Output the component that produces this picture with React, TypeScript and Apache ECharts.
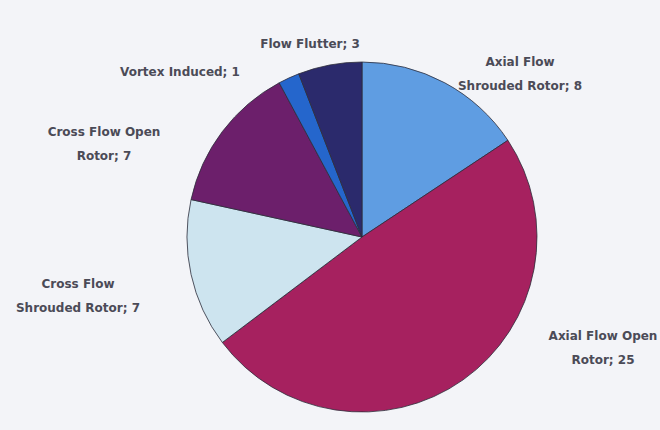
import React, { useEffect, useRef } from "react";
import * as echarts from "echarts";

// Turbine concept counts, in clockwise order from 12 o'clock
const categories = [
  "Axial Flow\nShrouded Rotor",
  "Axial Flow Open\nRotor",
  "Cross Flow\nShrouded Rotor",
  "Cross Flow Open\nRotor",
  "Vortex Induced",
  "Flow Flutter",
];
const counts = [8, 25, 7, 7, 1, 3];
const sliceColors = ["#5f9de2", "#a6215f", "#cde4ef", "#6c1f6b", "#2566cc", "#2b2a6c"];

// Where each label block sits (centre of the text block)
const labelSpots: [number, number][] = [
  [520, 74],
  [603, 348],
  [78, 296],
  [104, 144],
  [180, 72],
  [310, 44],
];

export default function App() {
  const ref = useRef<HTMLDivElement>(null);

  useEffect(() => {
    if (!ref.current) return;
    const chart = echarts.init(ref.current, undefined, { renderer: "svg" });
    chart.setOption({
      animation: false,
      backgroundColor: "#f3f4f8",
      series: [
        {
          type: "pie",
          center: [362, 237],
          radius: 175,
          startAngle: 90,
          clockwise: true,
          avoidLabelOverlap: false,
          itemStyle: { borderColor: "#2c2c3a", borderWidth: 0.8 },
          label: {
            show: true,
            position: "outside",
            formatter: (p: any) => `${p.name}; ${p.value}`,
            fontFamily: "DejaVu Sans",
            fontWeight: "bold",
            fontSize: 12,
            color: "#4b4b57",
            lineHeight: 24,
            align: "center",
          },
          labelLine: { show: false },
          labelLayout: (params: any) => {
            const spot = labelSpots[params.dataIndex];
            return {
              x: spot[0],
              y: spot[1],
              align: "center",
              verticalAlign: "middle",
            };
          },
          data: categories.map((name, i) => ({
            name,
            value: counts[i],
            itemStyle: { color: sliceColors[i] },
          })),
        },
      ],
    });
    return () => chart.dispose();
  }, []);

  return (
    <div
      ref={ref}
      style={{ position: "fixed", left: 0, top: 0, width: 660, height: 430 }}
    />
  );
}
